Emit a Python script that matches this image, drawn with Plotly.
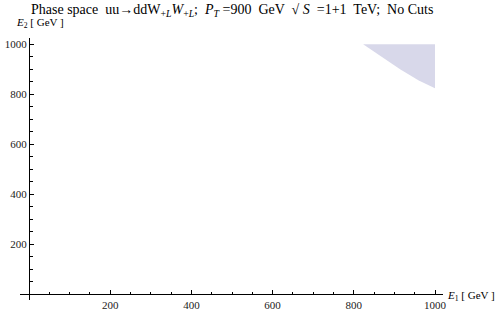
import plotly.graph_objects as go

# Boundary of the allowed phase-space region (E1, E2 in GeV)
region_e1 = [823, 1000, 1000, 960, 914, 865, 823]
region_e2 = [1000, 1000, 824, 855, 900, 952, 1000]

tick_vals = [200, 400, 600, 800, 1000]
tick_text = ["200", "400", "600", "800", "1000"]

title_text = ("Phase space  uu\u2192ddW<sub>+<i>L</i></sub><i>W</i><sub>+<i>L</i></sub>;  "
              "<i>P<sub>T</sub></i> =900  GeV  \u221A <i>S</i>  =1+1  TeV;  No Cuts")

serif = "Liberation Serif, Times New Roman, serif"

fig = go.Figure()
fig.add_trace(go.Scatter(
    x=region_e1, y=region_e2, mode="lines", fill="toself",
    fillcolor="rgb(216,216,234)", line=dict(width=0, color="rgb(216,216,234)"),
    hoverinfo="skip", showlegend=False,
))

L, R, T, B = 20, 57, 38, 10
W, H = 500, 310
pw, ph = W - L - R, H - T - B
x0, x1 = -22.2, 1019.7
y0, y1 = -22.8, 1025.2
xpos = (0 - x0) / (x1 - x0)
ypos = (0 - y0) / (y1 - y0)

axis_common = dict(
    showgrid=False, zeroline=False, showline=True, linecolor="black", linewidth=1,
    ticks="inside", ticklen=4, tickwidth=1, tickcolor="black",
    tickmode="array", tickvals=tick_vals, ticktext=tick_text,
    tickfont=dict(family=serif, size=11, color="#222"),
    minor=dict(ticks="inside", ticklen=2.5, tickcolor="black", tickmode="linear", tick0=0, dtick=50),
    anchor="free", automargin=False, fixedrange=True,
)

fig.update_layout(
    width=W, height=H, margin=dict(l=L, r=R, t=T, b=B, autoexpand=False),
    plot_bgcolor="white", paper_bgcolor="white",
    xaxis=dict(range=[x0, x1], position=ypos, **axis_common),
    yaxis=dict(range=[y0, y1], position=xpos, **axis_common),
    annotations=[
        dict(text=title_text, xref="paper", yref="paper", x=0.5, y=1 + (38 - 10) / ph,
             showarrow=False, font=dict(family=serif, size=14, color="black"),
             xanchor="center", yanchor="middle"),
        dict(text="<i>E</i><sub>2</sub> [ GeV ]", xref="paper", yref="paper",
             x=-6 / pw, y=1 + (38 - 23) / ph, showarrow=False,
             font=dict(family=serif, size=11, color="black"), xanchor="left", yanchor="middle"),
        dict(text="<i>E</i><sub>1</sub> [ GeV ]", xref="paper", yref="paper",
             x=1 + (497 - 443) / pw, y=(300 - 296) / ph, showarrow=False,
             font=dict(family=serif, size=11, color="black"), xanchor="right", yanchor="middle"),
    ],
)

fig.write_html("out.html", config={"displayModeBar": False})
